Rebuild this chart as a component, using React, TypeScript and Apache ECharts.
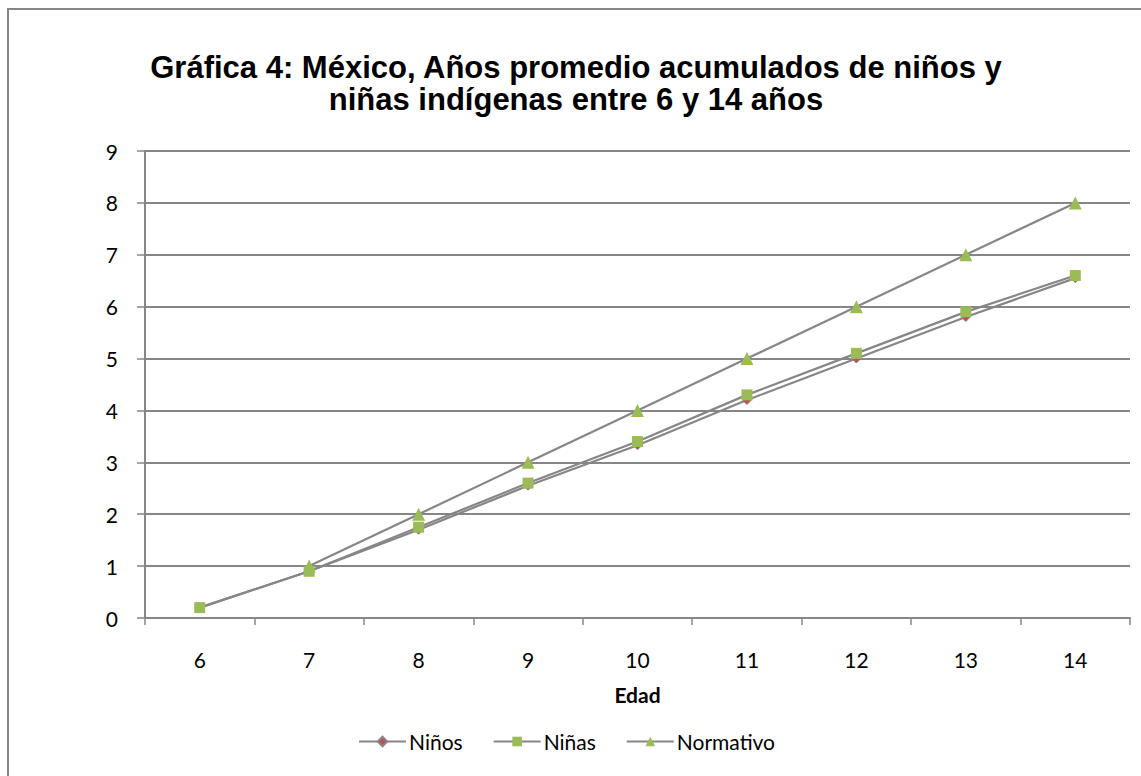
import React, { useEffect, useRef } from "react";
import * as echarts from "echarts";

// Edad (años) en el eje de categorías
const edades = ["6", "7", "8", "9", "10", "11", "12", "13", "14"];
// Años promedio acumulados
const ninos = [0.2, 0.9, 1.7, 2.55, 3.33, 4.2, 5.0, 5.8, 6.55];
const ninas = [0.2, 0.9, 1.75, 2.6, 3.4, 4.3, 5.1, 5.9, 6.6];
const normativo = [null, 1, 2, 3, 4, 5, 6, 7, 8];

const titulo = "Gráfica 4: México, Años promedio acumulados de niños y\nniñas indígenas entre 6 y 14 años";

const LINE_GRAY = "#868686";
const GREEN = "#9BBB59";
const RED = "#C0504D";
const FONT = "Lato, 'Open Sans', sans-serif";

export default function App() {
  const ref = useRef<HTMLDivElement>(null);

  useEffect(() => {
    if (!ref.current) return;
    const chart = echarts.init(ref.current, undefined, { renderer: "svg" });
    chart.setOption({
      animation: false,
      backgroundColor: "#ffffff",
      title: {
        text: titulo,
        left: 571,
        top: 46,
        textAlign: "center",
        textStyle: {
          fontFamily: "'Liberation Sans', Arial, sans-serif",
          fontWeight: "bold",
          fontSize: 31,
          lineHeight: 32,
          color: "#000000",
        },
      },
      graphic: [
        {
          type: "rect",
          shape: { x: 8, y: 9, width: 1200, height: 900 },
          style: { fill: "none", stroke: "#878787", lineWidth: 2 },
          silent: true,
        },
      ],
      grid: { left: 145, top: 151, width: 985, height: 467, containLabel: false },
      xAxis: {
        type: "category",
        data: edades,
        boundaryGap: true,
        name: "Edad",
        nameLocation: "middle",
        nameGap: 66,
        nameTextStyle: { fontFamily: FONT, fontWeight: "bold", fontSize: 21, color: "#000" },
        axisLine: { lineStyle: { color: LINE_GRAY, width: 2 } },
        axisTick: { show: true, length: 7, lineStyle: { color: LINE_GRAY, width: 1.5 } },
        axisLabel: { margin: 31, fontFamily: FONT, fontSize: 21, color: "#000" },
        splitLine: { show: false },
      },
      yAxis: {
        type: "value",
        min: 0,
        max: 9,
        interval: 1,
        axisLine: { show: true, lineStyle: { color: LINE_GRAY, width: 2 } },
        axisTick: { show: true, length: 8, lineStyle: { color: LINE_GRAY, width: 1.5 } },
        axisLabel: { margin: 27, fontFamily: FONT, fontSize: 21, color: "#000" },
        splitLine: { show: true, lineStyle: { color: LINE_GRAY, width: 2 } },
      },
      legend: {
        bottom: 19,
        left: 353,
        itemWidth: 47,
        itemHeight: 12,
        itemGap: 30,
        textStyle: { fontFamily: FONT, fontSize: 21, color: "#000", padding: [0, 0, 0, -2] },
        data: ["Niños", "Niñas", "Normativo"],
      },
      series: [
        {
          name: "Niños",
          type: "line",
          data: ninos,
          symbol: "diamond",
          symbolSize: 9,
          lineStyle: { color: LINE_GRAY, width: 2.2 },
          itemStyle: { color: RED, borderColor: LINE_GRAY, borderWidth: 1 },
          z: 2,
        },
        {
          name: "Niñas",
          type: "line",
          data: ninas,
          symbol: "rect",
          symbolSize: 11,
          lineStyle: { color: LINE_GRAY, width: 2.2 },
          itemStyle: { color: GREEN },
          z: 3,
        },
        {
          name: "Normativo",
          type: "line",
          data: normativo,
          symbol: "triangle",
          symbolSize: 13,
          connectNulls: false,
          lineStyle: { color: LINE_GRAY, width: 2.2 },
          itemStyle: { color: GREEN },
          z: 4,
        },
      ],
    });
    return () => chart.dispose();
  }, []);

  return (
    <div
      ref={ref}
      style={{ position: "fixed", left: 0, top: 0, width: 1141, height: 776 }}
    />
  );
}
